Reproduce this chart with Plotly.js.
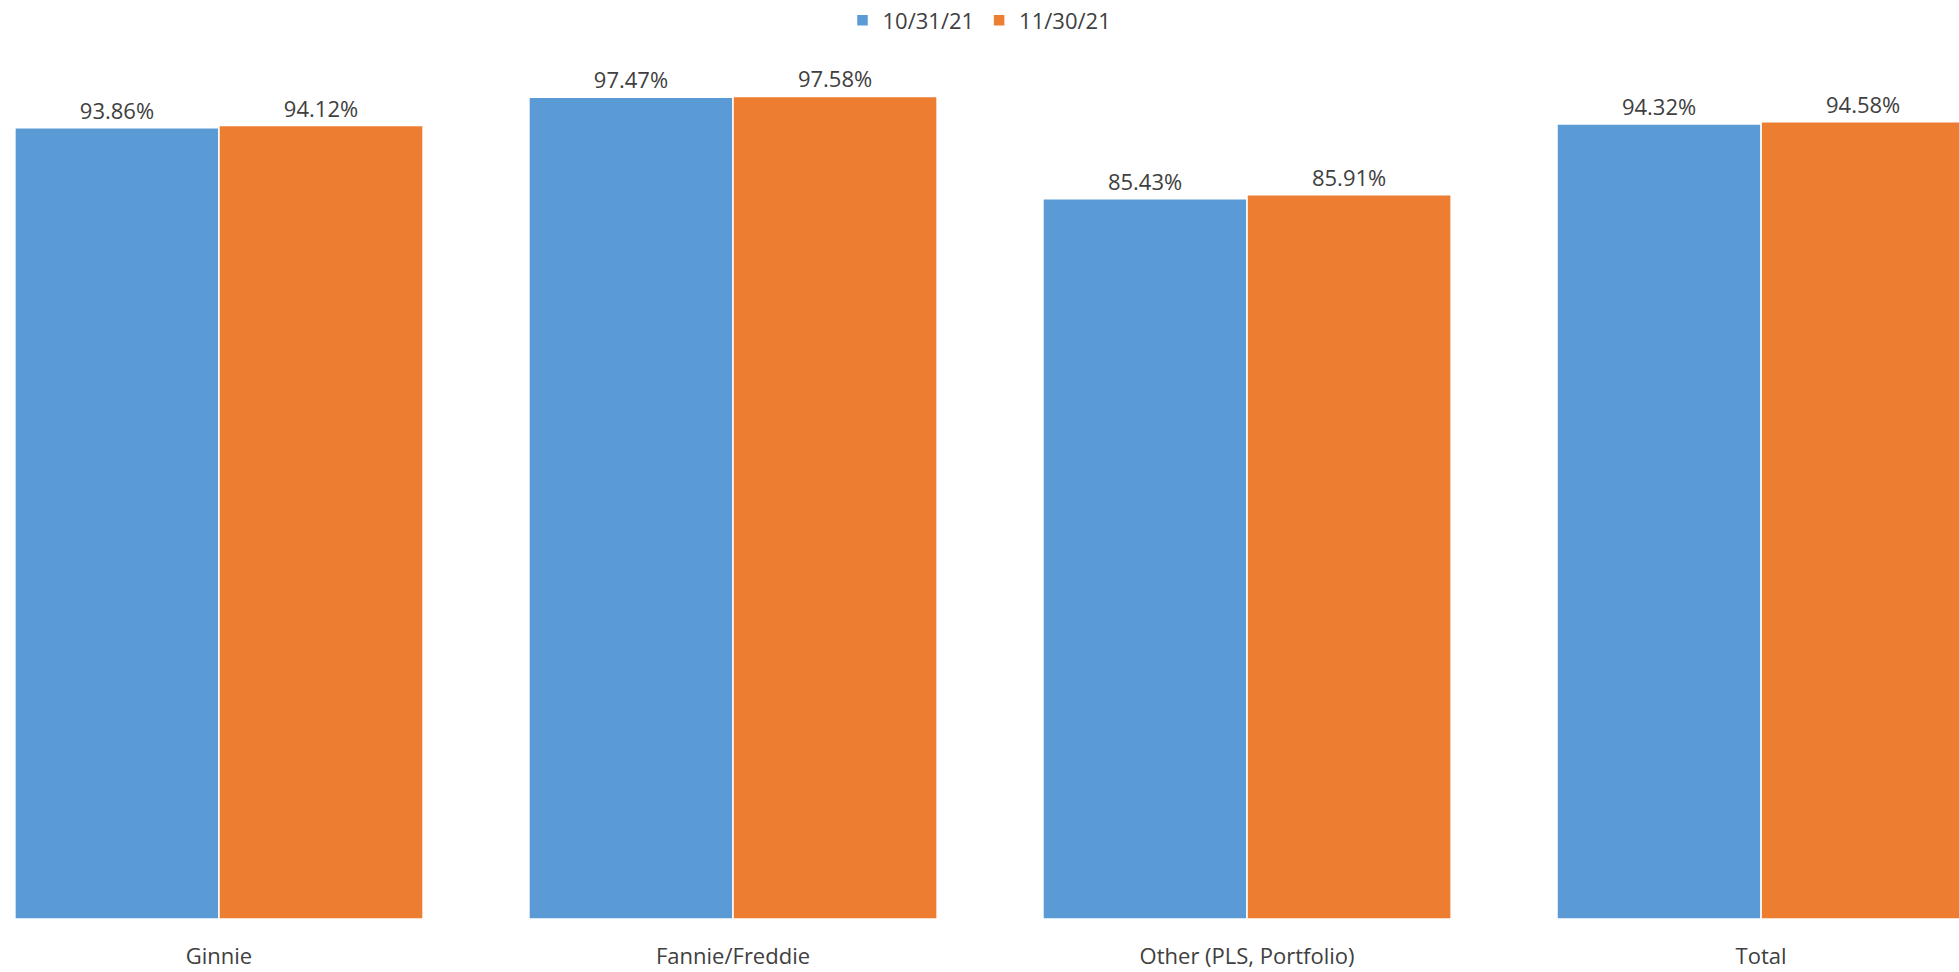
<!DOCTYPE html>
<html>
<head>
<meta charset="utf-8">
<script src="https://cdn.plot.ly/plotly-3.0.1.min.js"></script>
<style>html,body{margin:0;padding:0;background:#fff}</style>
</head>
<body>
<div id="chart" style="width:1959px;height:972px"></div>
<script>
var categories = ["Ginnie", "Fannie/Freddie", "Other (PLS, Portfolio)", "Total"];
var oct21 = [93.86, 97.47, 85.43, 94.32];
var nov21 = [94.12, 97.58, 85.91, 94.58];
var seriesNames = ["10/31/21", "11/30/21"];

function mkTrace(vals, name, color) {
  return {
    type: "bar", x: categories, y: vals, name: name,
    marker: {color: color, line: {color: "#ffffff", width: 1.5}},
    text: vals.map(function (v) { return v.toFixed(2) + "%"; }),
    textposition: "outside", cliponaxis: false,
    textfont: {size: 22, color: "#404040"}
  };
}

var data = [mkTrace(oct21, seriesNames[0], "#5b9bd5"), mkTrace(nov21, seriesNames[1], "#ed7d31")];

var layout = {
  font: {family: "Open Sans, DejaVu Sans, sans-serif", size: 21, color: "#404040"},
  margin: {l: 0, r: 0, t: 76, b: 53, autoexpand: false},
  barmode: "group", bargap: 0.206, bargroupgap: 0,
  showlegend: true,
  legend: {orientation: "h", x: 0.5, xanchor: "center", y: 1.066, yanchor: "middle", font: {size: 22}},
  xaxis: {range: [-0.426, 3.385], automargin: false, showline: false, ticks: "", ticklabelstandoff: 22, tickfont: {size: 22}},
  yaxis: {range: [0, 100], visible: false, showgrid: false, automargin: false},
  plot_bgcolor: "#fff", paper_bgcolor: "#fff"
};

Plotly.newPlot("chart", data, layout, {displayModeBar: false});
</script>
</body>
</html>
